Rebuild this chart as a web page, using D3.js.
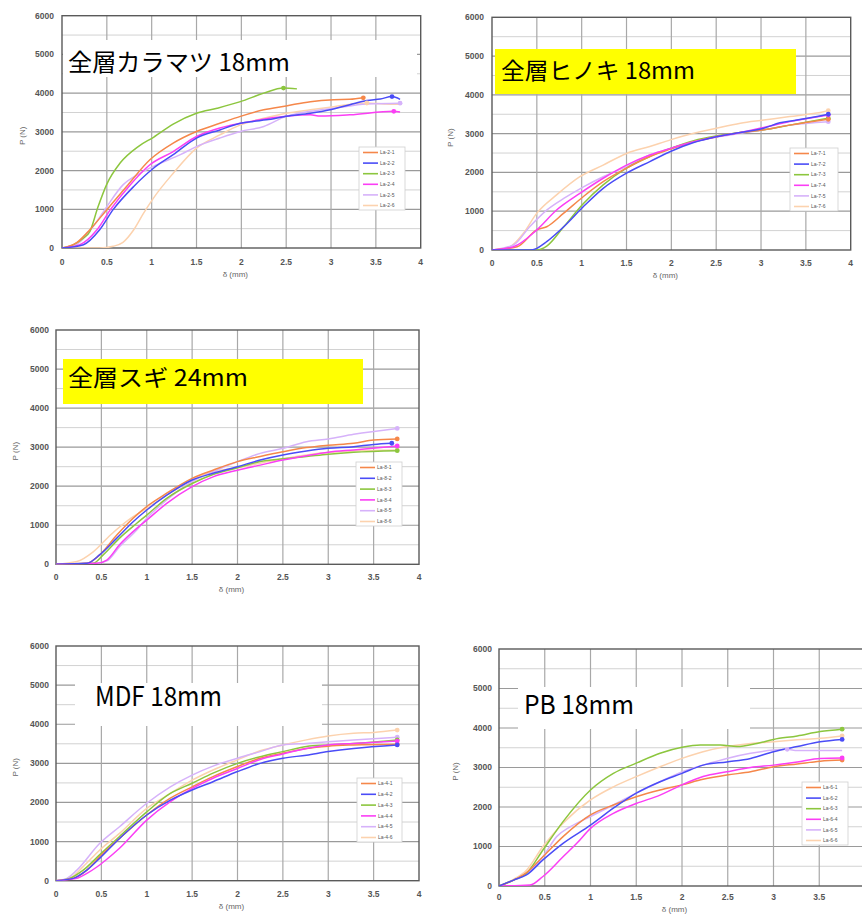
<!DOCTYPE html>
<html>
<head>
<meta charset="utf-8">
<script src="https://cdn.jsdelivr.net/npm/d3@7"></script>
<style>
  html, body { margin: 0; padding: 0; background: #fff; }
  svg { display: block; }
</style>
</head>
<body>
<svg id="chart" width="862" height="915"></svg>
<script>
// Load–displacement curves, six specimens per board type. x: δ (mm), y: P (N)
const xTicks = [0, 0.5, 1, 1.5, 2, 2.5, 3, 3.5, 4];
const yTicks = [0, 1000, 2000, 3000, 4000, 5000, 6000];
const seriesColors = ["#f5874a", "#4a4cf7", "#8cc63e", "#fb3ef5", "#d6b2fa", "#fcd2ae"];

// 全層カラマツ 18mm
const la2Names = ["La-2-1", "La-2-2", "La-2-3", "La-2-4", "La-2-5", "La-2-6"];
const la2_1 = [[0,0],[0.16,130],[0.31,470],[0.5,990],[0.72,1590],[0.98,2280],[1.24,2710],[1.5,3010],[1.76,3220],[1.99,3400],[2.25,3570],[2.5,3670],[2.77,3780],[3.03,3830],[3.21,3840],[3.36,3880]];
const la2_2 = [[0,0],[0.24,86],[0.42,470],[0.57,990],[0.8,1590],[1.02,2060],[1.24,2410],[1.5,2840],[1.76,3050],[1.99,3220],[2.13,3270],[2.28,3310],[2.5,3400],[2.77,3480],[2.99,3570],[3.21,3700],[3.4,3810],[3.55,3850],[3.68,3910],[3.77,3840]];
const la2_3 = [[0,0],[0.13,86],[0.24,258],[0.31,420],[0.4,1050],[0.5,1650],[0.65,2200],[0.85,2620],[1.02,2860],[1.24,3200],[1.5,3480],[1.73,3610],[1.99,3780],[2.25,4000],[2.47,4130],[2.62,4110]];
const la2_4 = [[0,0],[0.2,86],[0.39,470],[0.54,990],[0.76,1630],[0.98,2150],[1.24,2490],[1.5,2880],[1.76,3100],[1.99,3220],[2.5,3400],[2.77,3440],[2.88,3410],[3.21,3440],[3.7,3530],[3.77,3515]];
const la2_5 = [[0,0],[0.16,86],[0.35,560],[0.5,1070],[0.68,1630],[0.87,1930],[1.06,2150],[1.32,2410],[1.5,2620],[1.76,2840],[1.99,3010],[2.25,3140],[2.5,3400],[2.77,3530],[3.03,3610],[3.4,3720],[3.77,3740]];
const la2_6 = [[0,0],[0.42,0],[0.57,43],[0.68,146],[0.8,470],[0.91,900],[1.02,1290],[1.24,1930],[1.5,2580],[1.76,2920],[1.99,3180],[2.25,3350],[2.5,3480],[2.77,3570],[3.03,3650],[3.4,3745],[3.59,3720],[3.77,3710]];

// 全層ヒノキ 18mm
const la7Names = ["La-7-1", "La-7-2", "La-7-3", "La-7-4", "La-7-5", "La-7-6"];
const la7_1 = [[0,0],[0.28,86],[0.5,520],[0.61,600],[0.8,950],[1.02,1380],[1.24,1760],[1.5,2110],[1.76,2410],[1.99,2600],[2.25,2790],[2.5,2920],[2.77,3030],[3.03,3100],[3.32,3220],[3.75,3370]];
const la7_2 = [[0,0],[0.42,0],[0.5,43],[0.61,215],[0.8,600],[1.02,1120],[1.24,1590],[1.5,1980],[1.76,2280],[1.99,2540],[2.25,2770],[2.5,2920],[2.77,3030],[3.03,3140],[3.21,3280],[3.4,3350],[3.75,3500]];
const la7_3 = [[0,0],[0.5,0],[0.61,100],[0.8,600],[1.02,1200],[1.24,1680],[1.5,2110],[1.76,2410],[1.99,2620],[2.25,2820],[2.5,2940],[2.77,3030],[3.03,3100],[3.32,3220],[3.75,3400]];
const la7_4 = [[0,0],[0.24,86],[0.5,520],[0.72,1030],[0.98,1460],[1.24,1850],[1.5,2190],[1.76,2450],[1.99,2620],[2.25,2790],[2.5,2920],[2.77,3030],[3.03,3160],[3.32,3310],[3.75,3480]];
const la7_5 = [[0,0],[0.24,130],[0.42,600],[0.61,1030],[0.8,1330],[1.02,1630],[1.24,1890],[1.5,2150],[1.76,2450],[1.99,2620],[2.25,2790],[2.5,2910],[2.77,3010],[3.03,3100],[3.32,3220],[3.75,3310]];
const la7_6 = [[0,0],[0.2,86],[0.35,430],[0.5,950],[0.72,1420],[0.98,1890],[1.24,2190],[1.5,2490],[1.76,2670],[1.99,2840],[2.25,3010],[2.5,3140],[2.77,3270],[3.03,3350],[3.32,3440],[3.62,3530],[3.75,3590]];

// 全層スギ 24mm
const la8Names = ["La-8-1", "La-8-2", "La-8-3", "La-8-4", "La-8-5", "La-8-6"];
const la8_1 = [[0,0],[0.34,26],[0.48,240],[0.67,750],[0.85,1180],[1,1480],[1.22,1820],[1.5,2200],[1.73,2410],[2,2630],[2.25,2760],[2.5,2880],[2.76,2990],[3,3050],[3.28,3100],[3.5,3180],[3.76,3210]];
const la8_2 = [[0,0],[0.34,26],[0.48,240],[0.67,670],[0.85,1090],[1,1390],[1.22,1770],[1.5,2160],[1.73,2330],[2,2500],[2.25,2670],[2.5,2800],[2.76,2900],[3,2970],[3.28,3010],[3.5,3070],[3.7,3100]];
const la8_3 = [[0,0],[0.41,26],[0.52,240],[0.7,670],[0.89,1050],[1,1260],[1.22,1690],[1.5,2070],[1.73,2300],[2,2470],[2.25,2630],[2.5,2700],[2.76,2760],[3,2820],[3.28,2870],[3.76,2910]];
const la8_4 = [[0,0],[0.45,26],[0.56,110],[0.7,500],[0.89,920],[1,1130],[1.22,1560],[1.5,1990],[1.73,2240],[2,2410],[2.25,2540],[2.5,2670],[2.76,2780],[3,2870],[3.28,2930],[3.76,3030]];
const la8_5 = [[0,0],[0.45,26],[0.56,86],[0.7,450],[0.89,880],[1,1180],[1.22,1650],[1.5,2120],[1.73,2370],[2,2630],[2.25,2840],[2.5,2970],[2.76,3140],[3,3210],[3.28,3330],[3.76,3480]];
const la8_6 = [[0,0],[0.23,70],[0.41,320],[0.6,750],[0.85,1220],[1,1430],[1.22,1770],[1.5,2160],[1.73,2370],[2,2470],[2.25,2590],[2.5,2700],[2.76,2800],[3,2860],[3.28,2900],[3.76,2930]];

// MDF 18mm
const la4Names = ["La-4-1", "La-4-2", "La-4-3", "La-4-4", "La-4-5", "La-4-6"];
const la4_1 = [[0,0],[0.19,60],[0.34,270],[0.48,610],[0.7,1080],[1,1680],[1.26,2110],[1.5,2400],[1.73,2660],[2,2920],[2.25,3130],[2.5,3260],[2.76,3380],[3,3440],[3.28,3470],[3.76,3490]];
const la4_2 = [[0,0],[0.19,60],[0.34,270],[0.48,570],[0.7,1080],[1,1680],[1.26,2060],[1.5,2320],[1.73,2530],[2,2790],[2.25,3000],[2.5,3130],[2.76,3210],[3,3300],[3.28,3380],[3.76,3470]];
const la4_3 = [[0,0],[0.15,60],[0.3,270],[0.48,660],[0.7,1130],[1,1760],[1.26,2230],[1.5,2490],[1.73,2750],[2,3000],[2.25,3170],[2.5,3300],[2.76,3430],[3,3470],[3.28,3510],[3.76,3600]];
const la4_4 = [[0,0],[0.23,60],[0.35,200],[0.45,350],[0.55,530],[0.7,830],[1,1550],[1.26,2020],[1.5,2360],[1.73,2620],[2,2870],[2.25,3100],[2.5,3240],[2.76,3380],[3,3470],[3.28,3510],[3.76,3570]];
const la4_5 = [[0,0],[0.12,60],[0.23,270],[0.48,950],[0.7,1380],[1,1980],[1.26,2400],[1.5,2700],[1.73,2930],[2,3130],[2.25,3300],[2.5,3470],[2.76,3510],[3,3550],[3.28,3600],[3.76,3670]];
const la4_6 = [[0,0],[0.15,60],[0.3,360],[0.48,780],[0.7,1210],[1,1850],[1.26,2230],[1.5,2570],[1.73,2830],[2,3090],[2.25,3320],[2.5,3470],[2.76,3600],[3,3700],[3.28,3770],[3.5,3790],[3.76,3850]];

// PB 18mm
const la6Names = ["La-6-1", "La-6-2", "La-6-3", "La-6-4", "La-6-5", "La-6-6"];
const la6_1 = [[0,0],[0.16,150],[0.3,340],[0.48,740],[0.7,1250],[1,1800],[1.25,2050],[1.5,2260],[1.76,2430],[2,2560],[2.23,2700],[2.49,2810],[2.75,2890],[3,3020],[3.26,3090],[3.51,3160],[3.75,3190]];
const la6_2 = [[0,0],[0.16,150],[0.3,280],[0.48,660],[0.7,1080],[1,1540],[1.25,1970],[1.5,2350],[1.76,2640],[2,2850],[2.23,3060],[2.49,3140],[2.75,3230],[3,3400],[3.26,3530],[3.51,3650],[3.75,3710]];
const la6_3 = [[0,0],[0.16,150],[0.3,320],[0.48,910],[0.7,1630],[1,2430],[1.25,2850],[1.5,3110],[1.76,3360],[2,3510],[2.2,3570],[2.42,3570],[2.6,3530],[2.82,3610],[3,3710],[3.26,3800],[3.51,3910],[3.75,3970]];
const la6_4 = [[0,0],[0.34,25],[0.48,240],[0.7,740],[0.85,1080],[1,1460],[1.25,1840],[1.5,2090],[1.76,2300],[2,2560],[2.23,2770],[2.49,2890],[2.75,3000],[3,3060],[3.26,3140],[3.51,3230],[3.75,3240]];
const la6_5 = [[0,0],[0.16,150],[0.3,320],[0.48,740],[0.63,1250],[0.78,1500],[1,1760],[1.25,2050],[1.5,2350],[1.76,2640],[2,2890],[2.23,3060],[2.49,3230],[2.75,3360],[3,3440],[3.15,3460],[3.26,3430],[3.75,3430]];
const la6_6 = [[0,0],[0.16,170],[0.3,400],[0.48,1000],[0.7,1590],[1,2180],[1.25,2510],[1.5,2770],[1.76,3020],[2,3230],[2.23,3400],[2.49,3530],[2.75,3610],[3,3650],[3.26,3700],[3.51,3740],[3.75,3800]];

// Panel layout (pixels) and labels
const panels = [
  { title: "全層カラマツ 18mm", names: la2Names, series: [la2_1, la2_2, la2_3, la2_4, la2_5, la2_6],
    left: 62, right: 420.7, top: 15.7, bottom: 248, yLabX: 54, xLabY: 262, xTitleY: 274, yTitleX: 22,
    legend: { x: 359, y: 147, w: 46, h: 63 },
    box: { x0: 63, y0: 40, x1: 417, y1: 77, fill: "#ffffff" }, tx: 68, ty: 71, tlen: 222, fs: 24 },
  { title: "全層ヒノキ 18mm", names: la7Names, series: [la7_1, la7_2, la7_3, la7_4, la7_5, la7_6],
    left: 492, right: 850.7, top: 17.3, bottom: 250, yLabX: 484, xLabY: 263, xTitleY: 275, yTitleX: 450,
    legend: { x: 790, y: 148, w: 48, h: 63 },
    box: { x0: 495, y0: 49, x1: 796, y1: 94, fill: "#ffff00" }, tx: 501, ty: 78.5, tlen: 194, fs: 23 },
  { title: "全層スギ 24mm", names: la8Names, series: [la8_1, la8_2, la8_3, la8_4, la8_5, la8_6],
    left: 56, right: 419, top: 330, bottom: 564.3, yLabX: 49, xLabY: 577, xTitleY: 589, yTitleX: 15,
    legend: { x: 356, y: 462, w: 46, h: 64 },
    box: { x0: 63, y0: 359, x1: 363, y1: 404, fill: "#ffff00" }, tx: 68, ty: 386, tlen: 180, fs: 23 },
  { title: "MDF 18mm", names: la4Names, series: [la4_1, la4_2, la4_3, la4_4, la4_5, la4_6],
    left: 56, right: 419, top: 646, bottom: 880.7, yLabX: 49, xLabY: 894, xTitleY: 906, yTitleX: 15,
    legend: { x: 357, y: 778, w: 45, h: 64 },
    box: { x0: 75, y0: 683, x1: 322, y1: 726, fill: "#ffffff" }, tx: 95, ty: 706, tlen: 127, fs: 27 },
  { title: "PB 18mm", names: la6Names, series: [la6_1, la6_2, la6_3, la6_4, la6_5, la6_6],
    left: 499, right: 865, top: 649, bottom: 886, yLabX: 492, xLabY: 897, xTitleY: 909, yTitleX: 455,
    legend: { x: 802, y: 782, w: 46, h: 63 },
    box: { x0: 518, y0: 687, x1: 750, y1: 729, fill: "#ffffff" }, tx: 524, ty: 714, tlen: 110, fs: 26 }
];

const pageWidth = 862;
const svg = d3.select("#chart");
const defs = svg.append("defs");
const tickFont = "'Liberation Sans', Arial, sans-serif";

panels.forEach((p, i) => {
  const x = d3.scaleLinear().domain([0, 4]).range([p.left, p.right]);
  const y = d3.scaleLinear().domain([0, 6000]).range([p.bottom, p.top]);
  const g = svg.append("g");

  // horizontal grid every 500 N, darker at each 1000 N
  const minorY = d3.range(500, 6000, 1000);
  g.append("g").selectAll("line").data(minorY).join("line")
    .attr("x1", x(0)).attr("x2", x(4)).attr("y1", d => y(d)).attr("y2", d => y(d))
    .attr("stroke", "#d2d2d2").attr("stroke-width", 1);
  g.append("g").selectAll("line").data(yTicks.slice(1, -1)).join("line")
    .attr("x1", x(0)).attr("x2", x(4)).attr("y1", d => y(d)).attr("y2", d => y(d))
    .attr("stroke", "#9a9a9a").attr("stroke-width", 1.2);
  // vertical grid every 0.5 mm
  g.append("g").selectAll("line").data(xTicks.slice(1, -1)).join("line")
    .attr("x1", d => x(d)).attr("x2", d => x(d)).attr("y1", y(0)).attr("y2", y(6000))
    .attr("stroke", "#a8a8a8").attr("stroke-width", 1.2);

  // plot frame
  g.append("rect").attr("x", x(0)).attr("y", y(6000))
    .attr("width", x(4) - x(0)).attr("height", y(0) - y(6000))
    .attr("fill", "none").attr("stroke", "#5a5a5a").attr("stroke-width", 1.4);

  // tick labels (only those that fall inside the page)
  g.append("g").selectAll("text").data(yTicks).join("text")
    .attr("x", p.yLabX).attr("y", d => y(d)).attr("dy", "0.35em")
    .attr("text-anchor", "end").attr("font-family", tickFont).attr("font-size", 8.5)
    .attr("font-weight", "bold").attr("fill", "#555").text(d => d);
  g.append("g").selectAll("text").data(xTicks.filter(d => x(d) < pageWidth - 4)).join("text")
    .attr("x", d => x(d)).attr("y", p.xLabY).attr("dy", "0.35em")
    .attr("text-anchor", "middle").attr("font-family", tickFont).attr("font-size", 8.5)
    .attr("font-weight", "bold").attr("fill", "#555").text(d => d);

  // axis titles
  g.append("text").attr("x", (p.left + Math.min(p.right, pageWidth)) / 2 - 6).attr("y", p.xTitleY)
    .attr("dy", "0.35em").attr("text-anchor", "middle").attr("font-family", tickFont)
    .attr("font-size", 8).attr("fill", "#666").text("δ (mm)");
  g.append("text")
    .attr("transform", `translate(${p.yTitleX},${(p.top + p.bottom) / 2 + 4}) rotate(-90)`)
    .attr("text-anchor", "middle").attr("dy", "0.35em").attr("font-family", tickFont)
    .attr("font-size", 8).attr("fill", "#666").text("P (N)");

  // title label on its backing box
  g.append("rect").attr("x", p.box.x0).attr("y", p.box.y0)
    .attr("width", p.box.x1 - p.box.x0).attr("height", p.box.y1 - p.box.y0)
    .attr("fill", p.box.fill);
  g.append("text").attr("x", p.tx).attr("y", p.ty)
    .attr("font-family", "'Noto Sans CJK JP', 'Noto Sans', sans-serif")
    .attr("font-size", p.fs).attr("font-weight", 400).attr("fill", "#000")
    .attr("textLength", p.tlen).attr("lengthAdjust", "spacingAndGlyphs")
    .text(p.title);

  // curves
  const clipId = "clip" + i;
  defs.append("clipPath").attr("id", clipId).append("rect")
    .attr("x", x(0)).attr("y", y(6000)).attr("width", x(4) - x(0)).attr("height", y(0) - y(6000));
  const line = d3.line().x(d => x(d[0])).y(d => y(d[1])).curve(d3.curveMonotoneX);
  const curves = g.append("g").attr("clip-path", `url(#${clipId})`);
  // draw light colours first so the stronger ones sit on top
  const order = [5, 4, 2, 0, 3, 1];
  order.forEach(k => {
    const s = p.series[k];
    curves.append("path").datum(s).attr("d", line)
      .attr("fill", "none").attr("stroke", seriesColors[k])
      .attr("stroke-width", 1.5).attr("stroke-linejoin", "round");
  });
  // marker at each specimen's peak load
  order.forEach(k => {
    const s = p.series[k];
    const peak = s.reduce((a, b) => (b[1] > a[1] ? b : a));
    curves.append("circle").attr("cx", x(peak[0])).attr("cy", y(peak[1])).attr("r", 2.4)
      .attr("fill", seriesColors[k]);
  });

  // legend
  const L = p.legend;
  const lg = g.append("g");
  lg.append("rect").attr("x", L.x).attr("y", L.y).attr("width", L.w).attr("height", L.h)
    .attr("fill", "#fff").attr("stroke", "#cfcfcf").attr("stroke-width", 0.8);
  const step = (L.h - 10) / 5;
  p.names.forEach((name, k) => {
    const yy = L.y + 5.5 + k * step;
    lg.append("line").attr("x1", L.x + 4).attr("x2", L.x + 19).attr("y1", yy).attr("y2", yy)
      .attr("stroke", seriesColors[k]).attr("stroke-width", 1.6);
    lg.append("text").attr("x", L.x + 21).attr("y", yy).attr("dy", "0.35em")
      .attr("font-family", tickFont).attr("font-size", 5).attr("fill", "#555").text(name);
  });
});
</script>
</body>
</html>
